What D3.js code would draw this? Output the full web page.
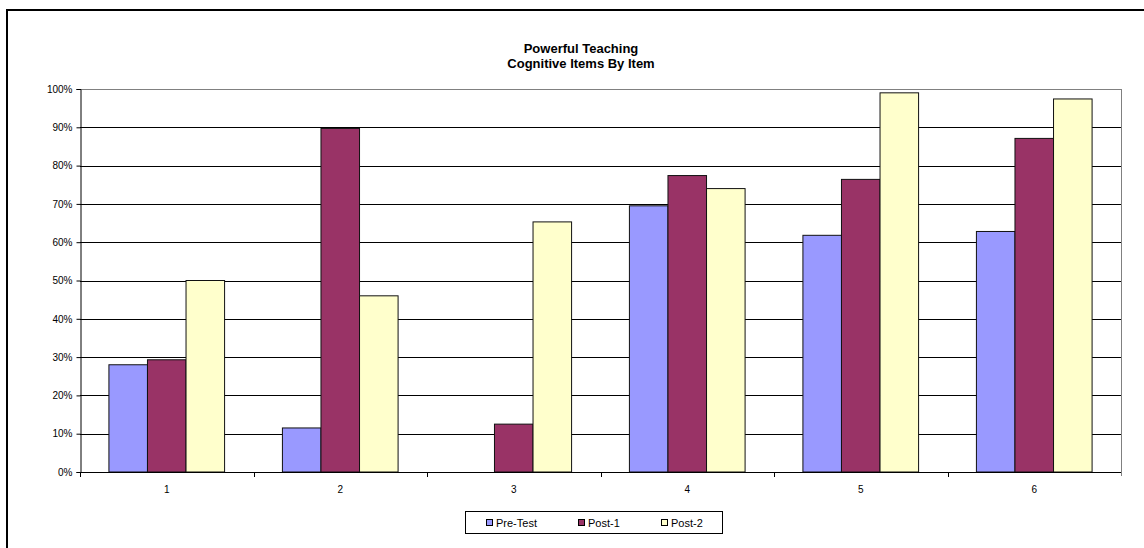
<!DOCTYPE html>
<html>
<head>
<meta charset="utf-8" />
<title>Powerful Teaching</title>
<script src="https://d3js.org/d3.v7.min.js"></script>
<style>
  body { margin: 0; background: #fff; }
  svg { display: block; font-family: "Liberation Sans", Arial, sans-serif; }
</style>
</head>
<body>
<svg id="chart"></svg>
<script>

// data
var items = ["1", "2", "3", "4", "5", "6"];
var series = ["Pre-Test", "Post-1", "Post-2"];
var preTest = [0.28, 0.115, 0, 0.695, 0.618, 0.628];
var post1 = [0.293, 0.897, 0.125, 0.774, 0.764, 0.871];
var post2 = [0.50, 0.46, 0.653, 0.74, 0.99, 0.974];
var yTicks = [0, 0.1, 0.2, 0.3, 0.4, 0.5, 0.6, 0.7, 0.8, 0.9, 1];
var colors = ["#9999FF", "#993366", "#FFFFCC"];

var width = 1144, height = 548;
var plot = {left: 80, right: 1121, top: 89, bottom: 472};

var svg = d3.select("#chart")
  .attr("width", width)
  .attr("height", height);

// outer frame (runs off the bottom/right edge in the reference)
svg.append("rect")
  .attr("x", 7).attr("y", 10)
  .attr("width", 1150).attr("height", 560)
  .attr("fill", "none")
  .attr("stroke", "#000")
  .attr("stroke-width", 2);

var rows = items.map(function(d, i) {
  return {item: d, values: [preTest[i], post1[i], post2[i]]};
});

var x0 = d3.scaleBand().domain(items).range([plot.left, plot.right]);
var bw = x0.bandwidth();
var x1 = d3.scaleBand().domain(series).range([bw / 6, bw * 5 / 6]);
var y = d3.scaleLinear().domain([0, 1]).range([plot.bottom, plot.top]);

// gridlines
svg.append("g").selectAll("line")
  .data(yTicks.slice(1))
  .enter().append("line")
  .attr("x1", plot.left).attr("x2", plot.right)
  .attr("y1", function(d) { return Math.round(y(d)) + 0.5; })
  .attr("y2", function(d) { return Math.round(y(d)) + 0.5; })
  .attr("stroke", function(d) { return d === 1 ? "#808080" : "#000"; })
  .attr("stroke-width", 1);

// right border of plot area
svg.append("line")
  .attr("x1", plot.right + 0.5).attr("x2", plot.right + 0.5)
  .attr("y1", plot.top).attr("y2", plot.bottom + 4)
  .attr("stroke", "#808080");

// bars
var groups = svg.append("g").selectAll("g")
  .data(rows)
  .enter().append("g")
  .attr("transform", function(d) { return "translate(" + x0(d.item) + ",0)"; });

groups.selectAll("rect")
  .data(function(d) { return d.values.map(function(v, j) { return {key: series[j], value: v, i: j}; }); })
  .enter().append("rect")
  .filter(function(d) { return d.value > 0; })
  .attr("x", function(d) { return x1(d.key); })
  .attr("width", x1.bandwidth())
  .attr("y", function(d) { return y(d.value); })
  .attr("height", function(d) { return y(0) - y(d.value); })
  .attr("fill", function(d) { return colors[d.i]; })
  .attr("stroke", "#111")
  .attr("stroke-width", 1);

// y axis
var yAxis = svg.append("g")
  .attr("transform", "translate(" + (plot.left + 0.5) + ",0)")
  .call(d3.axisLeft(y).tickValues(yTicks).tickFormat(d3.format(".0%")).tickSizeOuter(0).tickSize(4).tickPadding(4));
yAxis.select(".domain").attr("stroke", "#000");
yAxis.selectAll("text").attr("font-size", 10).attr("fill", "#000").attr("font-family", "Liberation Sans, Arial, sans-serif");

// x axis: line at baseline, ticks between categories
var xAxis = svg.append("g");
xAxis.append("line")
  .attr("x1", plot.left).attr("x2", plot.right)
  .attr("y1", plot.bottom + 0.5).attr("y2", plot.bottom + 0.5)
  .attr("stroke", "#000");
xAxis.selectAll("line.tick")
  .data(items)
  .enter().append("line")
  .attr("class", "tick")
  .attr("x1", function(d) { return Math.round(x0(d)) + 0.5; })
  .attr("x2", function(d) { return Math.round(x0(d)) + 0.5; })
  .attr("y1", plot.bottom).attr("y2", plot.bottom + 5)
  .attr("stroke", "#000");
xAxis.selectAll("text")
  .data(items)
  .enter().append("text")
  .attr("x", function(d) { return x0(d) + bw / 2; })
  .attr("y", 493)
  .attr("text-anchor", "middle")
  .attr("font-size", 10)
  .text(function(d) { return d; });

// title
var title = svg.append("text")
  .attr("x", 581).attr("y", 52.5)
  .attr("text-anchor", "middle")
  .attr("font-size", 13)
  .attr("font-weight", "bold");
title.append("tspan").attr("x", 581).text("Powerful Teaching");
title.append("tspan").attr("x", 581).attr("dy", 15).text("Cognitive Items By Item");

// legend
var legend = svg.append("g").attr("transform", "translate(465,511)");
legend.append("rect")
  .attr("x", 0.5).attr("y", 0.5)
  .attr("width", 257).attr("height", 22)
  .attr("fill", "#fff")
  .attr("stroke", "#000");
var legendX = [21, 113, 196];
var li = legend.selectAll("g.item")
  .data(series)
  .enter().append("g")
  .attr("class", "item")
  .attr("transform", function(d, i) { return "translate(" + legendX[i] + ",0)"; });
li.append("rect")
  .attr("x", 0.5).attr("y", 8.5)
  .attr("width", 6).attr("height", 6)
  .attr("fill", function(d, i) { return colors[i]; })
  .attr("stroke", "#000");
li.append("text")
  .attr("x", 10).attr("y", 15.5)
  .attr("font-size", 11)
  .text(function(d) { return d; });

</script>
</body>
</html>
